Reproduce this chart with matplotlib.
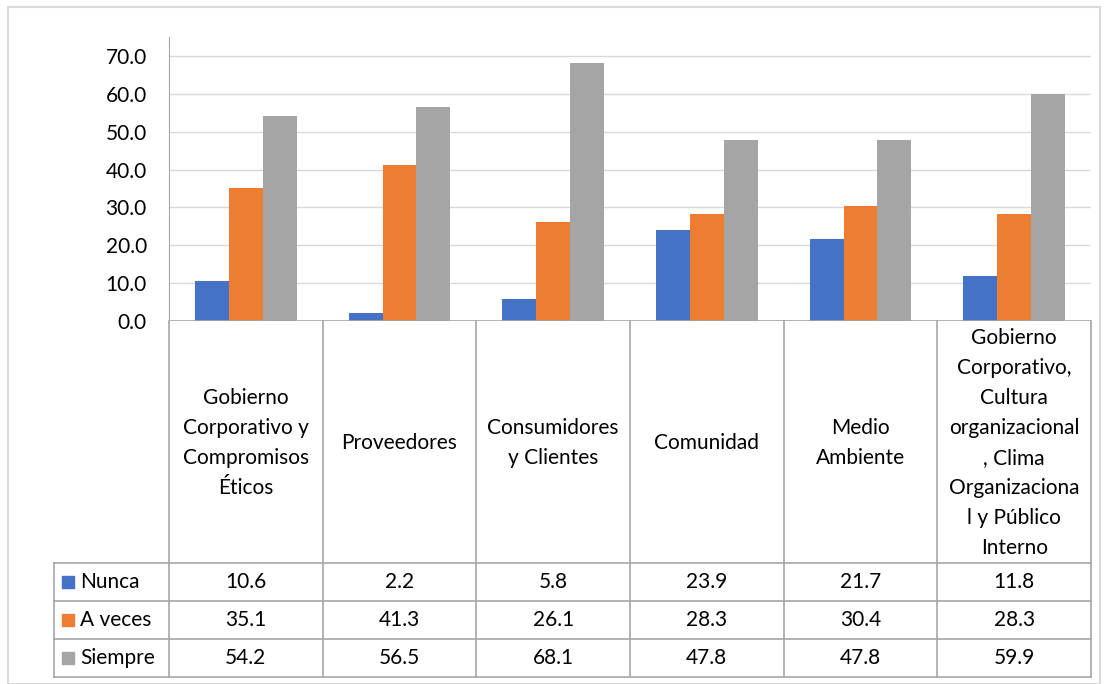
import matplotlib.pyplot as plt
from matplotlib.patches import Rectangle

plt.rcParams['font.family'] = ['Lato', 'DejaVu Sans']

# Data
categories = [
    "Gobierno\nCorporativo y\nCompromisos\nÉticos",
    "Proveedores",
    "Consumidores\ny Clientes",
    "Comunidad",
    "Medio\nAmbiente",
    "Gobierno\nCorporativo,\nCultura\norganizacional\n, Clima\nOrganizaciona\nl y Público\nInterno",
]
series_names = ["Nunca", "A veces", "Siempre"]
nunca = [10.6, 2.2, 5.8, 23.9, 21.7, 11.8]
a_veces = [35.1, 41.3, 26.1, 28.3, 30.4, 28.3]
siempre = [54.2, 56.5, 68.1, 47.8, 47.8, 59.9]
yticks = [0, 10, 20, 30, 40, 50, 60, 70]

colors = ["#4472C4", "#ED7D31", "#A5A5A5"]
line_col = "#A6A6A6"
fs = 15
W, H = 1108, 684

fig = plt.figure(figsize=(W / 100, H / 100), dpi=100)
fig.patches.append(Rectangle((8 / W, 0), 1092 / W, 1 - 7 / H, transform=fig.transFigure,
                             fill=False, edgecolor="#D9D9D9", lw=1.5))

def fx(px):
    return px / W

def fy(py):
    return 1 - py / H

x_left, x_right = 169, 1091
y_top, y_zero = 37, 321
ax = fig.add_axes([fx(x_left), fy(y_zero), fx(x_right - x_left), fy(y_top) - fy(y_zero)])

n = len(categories)
xs = list(range(n))
bw = 34 / 153.7
for i, (vals, c) in enumerate(zip([nunca, a_veces, siempre], colors)):
    ax.bar([x + (i - 1) * bw for x in xs], vals, width=bw, color=c, zorder=3)

ax.set_xlim(-0.5, n - 0.5)
ax.set_ylim(0, 75)
ax.set_yticks(yticks)
ax.set_yticklabels([f"{v:.1f}" for v in yticks], fontsize=fs)
ax.tick_params(axis='y', length=0, pad=16)
ax.set_xticks([])
ax.grid(axis='y', color="#D9D9D9", lw=1, zorder=0)
for s in ["top", "right", "bottom"]:
    ax.spines[s].set_visible(False)
ax.spines["left"].set_color(line_col)
ax.axhline(0, color=line_col, lw=1.2, zorder=4)

# Data table below the plot
t_left, t_bottom = 54, 677
hdr_bottom = 563
row_h = 38
cw = (x_right - x_left) / n
tab = fig.add_axes([fx(t_left), fy(t_bottom), fx(x_right - t_left), fy(y_zero) - fy(t_bottom)])
tab.set_xlim(t_left, x_right)
tab.set_ylim(t_bottom, y_zero)
tab.axis("off")

lkw = dict(color=line_col, lw=1.2, clip_on=False)
for k in range(n + 1):
    x = x_left + k * cw
    tab.plot([x, x], [y_zero, t_bottom], **lkw)
tab.plot([t_left, t_left], [hdr_bottom, t_bottom], **lkw)
for r in range(4):
    y = hdr_bottom + r * row_h
    tab.plot([t_left, x_right], [y, y], **lkw)

for k, lab in enumerate(categories):
    tab.text(x_left + (k + 0.5) * cw, (y_zero + hdr_bottom) / 2 + 1, lab, ha="center",
             va="center", fontsize=fs, linespacing=1.62)

for r, (name, vals, c) in enumerate(zip(series_names, [nunca, a_veces, siempre], colors)):
    yc = hdr_bottom + (r + 0.5) * row_h
    tab.add_patch(Rectangle((62, yc - 6), 12, 12, color=c, clip_on=False))
    tab.text(80, yc, name, ha="left", va="center", fontsize=fs)
    for k, v in enumerate(vals):
        tab.text(x_left + (k + 0.5) * cw, yc, f"{v:.1f}", ha="center", va="center", fontsize=fs)

fig.savefig("out.png", dpi=100)
